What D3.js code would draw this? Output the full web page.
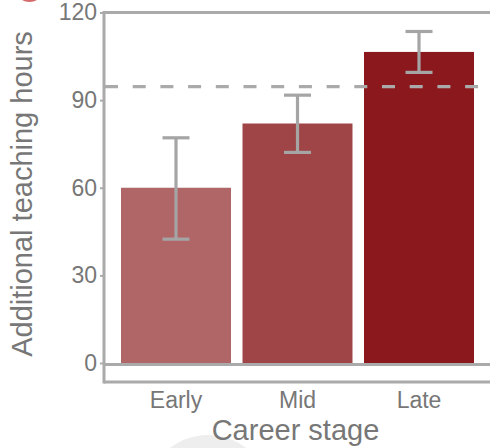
<!DOCTYPE html>
<html>
<head>
<meta charset="utf-8">
<script src="https://cdn.jsdelivr.net/npm/d3@7"></script>
<style>
  html, body { margin: 0; padding: 0; background: #fff; }
  svg { display: block; font-family: "Liberation Sans", Arial, sans-serif; }
</style>
</head>
<body>
<svg id="chart" width="490" height="448"></svg>
<script>
const categories = ["Early", "Mid", "Late"];
const means = [60, 82, 106.5];
const errLow = [42.4, 72.1, 99.5];
const errHigh = [77.1, 91.7, 113.5];
const referenceLine = 94.6;
const yTicks = [0, 30, 60, 90, 120];
const barColors = ["#b06566", "#9f4547", "#8b181d"];

const svg = d3.select("#chart");
const W = 490, H = 448;
const axisColor = "#aaaaaa";
const textColor = "#777777";

// decorative background shapes
svg.append("circle").attr("cx", 208).attr("cy", 498).attr("r", 63).attr("fill", "#eeeeee");
svg.append("circle").attr("cx", 29.5).attr("cy", -13).attr("r", 15).attr("fill", "#d46a6a");

const y = d3.scaleLinear().domain([0, 120]).range([363, 12.5]);
const x = d3.scaleBand().domain(categories).range([121, 474]).paddingInner(0.0947).paddingOuter(0);
const left = 104;

// bars
svg.append("g").selectAll("rect").data(categories).join("rect")
  .attr("x", d => x(d))
  .attr("width", x.bandwidth())
  .attr("y", (d, i) => y(means[i]))
  .attr("height", (d, i) => y(0) - y(means[i]))
  .attr("fill", (d, i) => barColors[i]);

// frame
const frame = svg.append("g").attr("stroke", axisColor).attr("stroke-width", 3).attr("fill", "none");
const yTop = y(120), yBot = y(-6.5);
frame.append("line").attr("x1", left).attr("x2", left).attr("y1", yTop - 1.5).attr("y2", yBot + 1.5);
frame.append("line").attr("x1", left).attr("x2", W + 5).attr("y1", yTop).attr("y2", yTop);
frame.append("line").attr("x1", left).attr("x2", W + 5).attr("y1", yBot).attr("y2", yBot);
frame.append("line").attr("x1", left).attr("x2", W + 5).attr("y1", y(0) + 1.5).attr("y2", y(0) + 1.5);

// reference dashed line
svg.append("line")
  .attr("x1", left + 1).attr("x2", W + 5)
  .attr("y1", y(referenceLine)).attr("y2", y(referenceLine))
  .attr("stroke", axisColor).attr("stroke-width", 3.3)
  .attr("stroke-dasharray", "13,14.7");

// error bars
const eb = svg.append("g").attr("stroke", "#a5a5a5").attr("stroke-width", 3.2);
categories.forEach((c, i) => {
  const cx = x(c) + x.bandwidth() / 2;
  eb.append("line").attr("x1", cx).attr("x2", cx).attr("y1", y(errLow[i])).attr("y2", y(errHigh[i]));
  eb.append("line").attr("x1", cx - 13.5).attr("x2", cx + 13.5).attr("y1", y(errLow[i])).attr("y2", y(errLow[i]));
  eb.append("line").attr("x1", cx - 13.5).attr("x2", cx + 13.5).attr("y1", y(errHigh[i])).attr("y2", y(errHigh[i]));
});

// y axis ticks
const yAxis = svg.append("g").attr("transform", `translate(${left},0)`)
  .call(d3.axisLeft(y).tickValues(yTicks).tickSize(4).tickPadding(3));
yAxis.select(".domain").remove();
yAxis.selectAll(".tick line").attr("stroke", axisColor).attr("stroke-width", 2);
yAxis.selectAll(".tick text").attr("fill", textColor).style("font-size", "23px")
  .style("font-family", "'Liberation Sans', Arial, sans-serif");

// x labels
const xAxis = svg.append("g").attr("transform", `translate(0,${y(0)})`)
  .call(d3.axisBottom(x).tickSize(0).tickPadding(0));
xAxis.select(".domain").remove();
xAxis.selectAll(".tick text").attr("fill", textColor).attr("dy", null).attr("y", 45)
  .style("font-size", "23px").style("font-family", "'Liberation Sans', Arial, sans-serif");

// titles
svg.append("text").attr("x", 295.5).attr("y", 440).attr("text-anchor", "middle")
  .attr("fill", textColor).style("font-size", "29px").text("Career stage");
svg.append("text").attr("transform", "translate(32,194) rotate(-90)").attr("text-anchor", "middle")
  .attr("fill", textColor).style("font-size", "29px").text("Additional teaching hours");
</script>
</body>
</html>
